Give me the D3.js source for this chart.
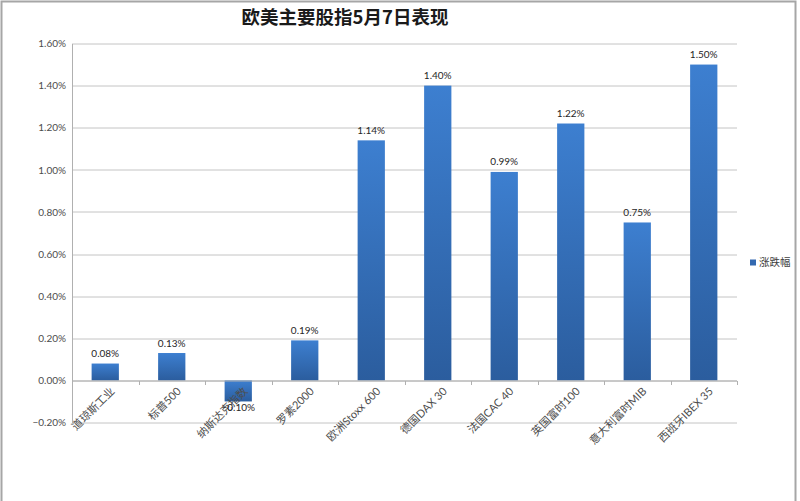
<!DOCTYPE html>
<html>
<head>
<meta charset="utf-8">
<script src="https://cdn.jsdelivr.net/npm/d3@7"></script>
<style>
  body { margin: 0; background: #fff; }
  svg { display: block; }
</style>
</head>
<body>
<div id="chart"></div>
<script>
// chart data
const categories = ["道琼斯工业", "标普500", "纳斯达克指数", "罗素2000", "欧洲Stoxx 600",
  "德国DAX 30", "法国CAC 40", "英国富时100", "意大利富时MIB", "西班牙IBEX 35"];
const changes = [0.08, 0.13, -0.10, 0.19, 1.14, 1.40, 0.99, 1.22, 0.75, 1.50];
const yTicks = [-0.2, 0, 0.2, 0.4, 0.6, 0.8, 1.0, 1.2, 1.4, 1.6];
const seriesName = "涨跌幅";
const title = "欧美主要股指5月7日表现";

const W = 800, H = 501;
const margin = { top: 43.5, right: 63, bottom: 78.5, left: 72 };
const width = W - margin.left - margin.right;
const height = H - margin.top - margin.bottom;
const font = "Lato, 'Noto Sans CJK SC', sans-serif";

const svg = d3.select("#chart").append("svg")
  .attr("width", W)
  .attr("height", H);

// vertical gradient like the office bar fill
const grad = svg.append("defs").append("linearGradient")
  .attr("id", "barFill")
  .attr("x1", 0).attr("y1", 0).attr("x2", 0).attr("y2", 1);
grad.append("stop").attr("offset", "0%").attr("stop-color", "#3d7fd0");
grad.append("stop").attr("offset", "100%").attr("stop-color", "#2b5d9e");

// outer frame
svg.append("rect")
  .attr("x", 1.5).attr("y", 1.5)
  .attr("width", 794).attr("height", 520)
  .attr("fill", "#fff")
  .attr("stroke", "#a6a6a6")
  .attr("stroke-width", 2);

svg.append("text")
  .attr("x", 345)
  .attr("y", 24)
  .attr("text-anchor", "middle")
  .attr("font-family", "'Noto Sans CJK SC', sans-serif")
  .attr("font-size", 18.5)
  .attr("font-weight", "bold")
  .attr("fill", "#1a1a1a")
  .text(title);

const g = svg.append("g")
  .attr("transform", `translate(${margin.left},${margin.top})`);

const x = d3.scaleBand()
  .domain(categories)
  .range([0, width])
  .paddingInner(0.59)
  .paddingOuter(0.295);

const y = d3.scaleLinear()
  .domain([-0.2, 1.6])
  .range([height, 0]);

// gridlines
g.append("g")
  .selectAll("line")
  .data(yTicks)
  .join("line")
  .attr("x1", 0)
  .attr("x2", width)
  .attr("y1", d => Math.round(y(d)) + 0.5)
  .attr("y2", d => Math.round(y(d)) + 0.5)
  .attr("stroke", "#c4c4c4")
  .attr("stroke-width", 1);

// y axis
const yAxis = g.append("g")
  .call(d3.axisLeft(y).tickValues(yTicks).tickSize(0).tickPadding(6)
    .tickFormat(d => d3.format(".2f")(d) + "%"));
yAxis.select(".domain").attr("stroke", "#b0b0b0");
yAxis.selectAll("text")
  .attr("font-family", font)
  .attr("font-size", 10)
  .attr("fill", "#4d4d4d");

// bars
g.append("g")
  .selectAll("rect")
  .data(changes)
  .join("rect")
  .attr("x", (d, i) => x(categories[i]))
  .attr("y", d => y(Math.max(0, d)))
  .attr("width", x.bandwidth())
  .attr("height", d => Math.abs(y(d) - y(0)))
  .attr("fill", "url(#barFill)");

// category axis on the zero line
const step = x.step();
const xAxisG = g.append("g").attr("transform", `translate(0,${Math.round(y(0)) + 0.5})`);
xAxisG.append("line")
  .attr("x1", 0).attr("x2", width)
  .attr("stroke", "#b0b0b0");
xAxisG.selectAll(".tick")
  .data(d3.range(categories.length + 1))
  .join("line")
  .attr("class", "tick")
  .attr("x1", i => Math.round(i * step) + 0.5)
  .attr("x2", i => Math.round(i * step) + 0.5)
  .attr("y1", 0).attr("y2", 4)
  .attr("stroke", "#b0b0b0");

xAxisG.selectAll(".cat")
  .data(categories)
  .join("text")
  .attr("class", "cat")
  .attr("transform", d => `translate(${x(d) + x.bandwidth() / 2 + 10},${11}) rotate(-45)`)
  .attr("text-anchor", "end")
  .attr("font-family", font)
  .attr("font-size", 11)
  .attr("fill", "#4d4d4d")
  .text(d => d);

// data labels
g.append("g")
  .selectAll("text")
  .data(changes)
  .join("text")
  .attr("x", (d, i) => x(categories[i]) + x.bandwidth() / 2)
  .attr("y", d => d >= 0 ? y(d) - 6.5 : y(d) + 10)
  .attr("text-anchor", "middle")
  .attr("font-family", font)
  .attr("font-size", 10)
  .attr("fill", "#262626")
  .text(d => d3.format(".2f")(d) + "%");

// legend
const lg = svg.append("g").attr("transform", "translate(750,263)");
lg.append("rect")
  .attr("x", 0).attr("y", -3.5)
  .attr("width", 6).attr("height", 6)
  .attr("fill", "#3469b0");
lg.append("text")
  .attr("x", 9).attr("y", 0)
  .attr("dominant-baseline", "middle")
  .attr("font-family", "'Noto Sans CJK SC', sans-serif")
  .attr("font-size", 10.5)
  .attr("fill", "#404040")
  .text(seriesName);
</script>
</body>
</html>
